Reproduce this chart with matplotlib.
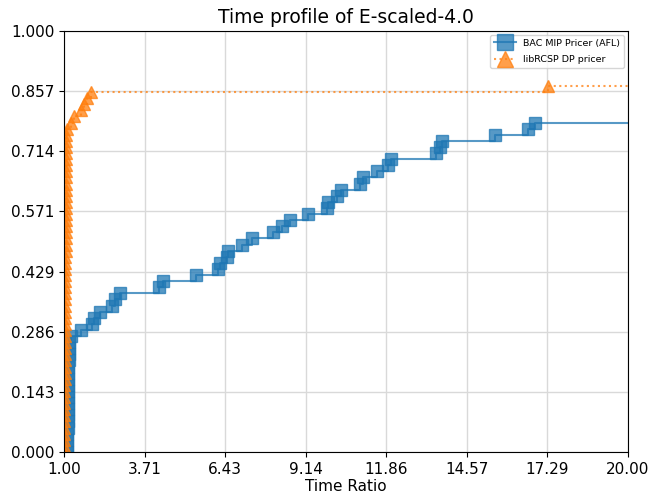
import numpy as np
import matplotlib
matplotlib.use("Agg")
import matplotlib.pyplot as plt

n_instances = 69
x_max = 20.0

# sorted time ratios per solver (one entry per solved instance)
bac_ratios = [1.10, 1.10, 1.11, 1.11, 1.12, 1.12, 1.12, 1.13, 1.13, 1.13,
              1.14, 1.14, 1.15, 1.15, 1.15, 1.16, 1.16, 1.17, 1.17, 1.22,
              1.56, 1.95, 2.02, 2.21, 2.60, 2.72, 2.89, 4.20, 4.32, 5.45,
              6.20, 6.25, 6.48, 6.54, 6.99, 7.32, 8.05, 8.33, 8.61, 9.23,
              9.85, 9.90, 10.20, 10.32, 10.97, 11.08, 11.53, 11.92, 12.03, 13.54,
              13.67, 13.75, 15.52, 16.64, 16.87]
rcsp_ratios = [1.00, 1.00, 1.00, 1.00, 1.00, 1.00, 1.01, 1.01, 1.01, 1.01,
               1.01, 1.01, 1.02, 1.02, 1.02, 1.02, 1.02, 1.02, 1.02, 1.03,
               1.03, 1.03, 1.03, 1.03, 1.03, 1.03, 1.04, 1.04, 1.04, 1.04,
               1.04, 1.04, 1.04, 1.05, 1.05, 1.05, 1.05, 1.05, 1.05, 1.05,
               1.05, 1.06, 1.06, 1.06, 1.06, 1.06, 1.06, 1.07, 1.07, 1.07,
               1.07, 1.08, 1.08, 1.10, 1.22, 1.35, 1.58, 1.68, 1.78, 1.92,
               17.29]

labels = ["BAC MIP Pricer (AFL)", "libRCSP DP pricer"]
x_ticks = np.linspace(1, x_max, 8)
y_ticks = np.linspace(0, 1, 8)

fig = plt.figure(figsize=(6.54, 4.99), dpi=100)
ax = fig.add_axes([0.0979, 0.0942, 0.8623, 0.8437])

styles = [dict(color="#1f77b4", marker="s", linestyle="-"),
          dict(color="#ff7f0e", marker="^", linestyle=":")]

for ratios, lab, st in zip([bac_ratios, rcsp_ratios], labels, styles):
    frac = np.arange(len(ratios)) / n_instances
    xs = list(ratios) + [x_max]
    ys = list(frac) + [frac[-1]]
    ax.step(xs, ys, where="post", label=lab, markersize=9, alpha=0.75,
            linewidth=1.5, markevery=list(range(len(ratios))), **st)

ax.set_xlim(1, x_max)
ax.set_ylim(0, 1)
ax.set_xticks(x_ticks)
ax.set_xticklabels(["%.2f" % v for v in x_ticks], fontsize=11)
ax.set_yticks(y_ticks)
ax.set_yticklabels(["%.3f" % v for v in y_ticks], fontsize=11)
ax.grid(True, color="#d9d9d9", linewidth=1)
ax.set_axisbelow(True)
ax.set_xlabel("Time Ratio", fontsize=11, labelpad=2)
ax.set_title("Time profile of E-scaled-4.0", fontsize=13.5)
ax.legend(loc="upper right", fontsize=6.8, labelspacing=0.8,
          markerscale=1.25, handlelength=2.3, borderaxespad=0.4)

fig.savefig("out.png", dpi=100)
